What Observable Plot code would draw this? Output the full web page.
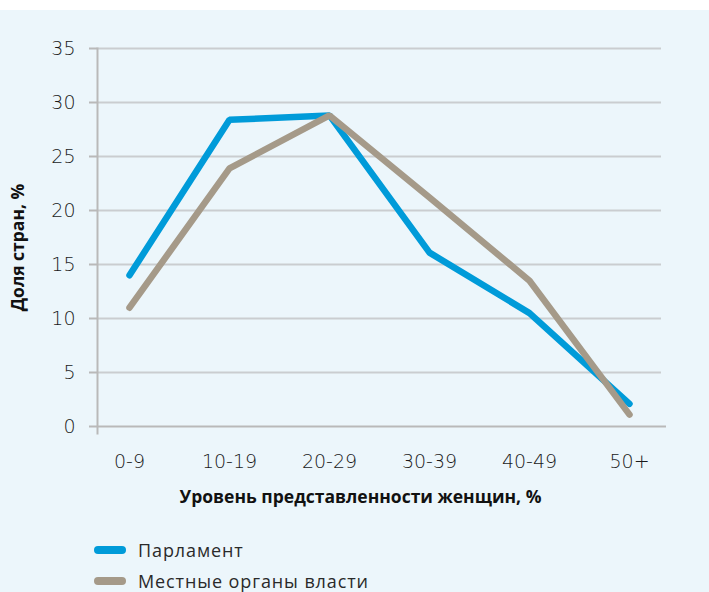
<!DOCTYPE html>
<html><head><meta charset="utf-8">
<script src="https://cdn.jsdelivr.net/npm/d3@7"></script>
<script src="https://cdn.jsdelivr.net/npm/@observablehq/plot@0.6"></script>
<style>
html,body{margin:0;padding:0;background:#fff;}
#wrap{position:absolute;top:10px;left:0;width:709px;height:582px;background:#ecf6fb;overflow:hidden;}
#chart{position:absolute;left:0;top:0;}
#legend{position:absolute;left:94px;top:524px;font-family:"Open Sans",sans-serif;font-size:18px;letter-spacing:0.9px;color:#2a2a2a;}
.item{display:flex;align-items:center;height:31px;}
.sw{display:inline-block;width:32px;height:8px;border-radius:4px;margin-right:12px;}
</style></head><body><div id="wrap"><div id="chart"></div><div id="legend"></div></div>
<script>
const categories = ["0-9","10-19","20-29","30-39","40-49","50+"];
const parliament = [14.0, 28.4, 28.8, 16.1, 10.5, 2.1];
const localGov = [11.0, 23.9, 28.8, 21.2, 13.5, 1.1];
const seriesNames = ["Парламент","Местные органы власти"];
const seriesColors = ["#009bd9","#a59a89"];
const yTicks = [0,5,10,15,20,25,30,35];
const xTitle = "Уровень представленности женщин, %";
const yTitle = "Доля стран, %";

const rows = [];
categories.forEach((c,i)=>rows.push({cat:c, v:parliament[i], s:seriesNames[0]}));
categories.forEach((c,i)=>rows.push({cat:c, v:localGov[i], s:seriesNames[1]}));

const plot = Plot.plot({
  width:709, height:520, marginTop:38, marginBottom:104, marginLeft:97, marginRight:48,
  style:{background:"transparent", fontFamily:"DejaVu Sans, sans-serif", fontSize:"19px", color:"#222", overflow:"visible"},
  x:{type:"point", domain:categories, padding:0.31, axis:null},
  y:{domain:[0,35], axis:null},
  color:{domain:seriesNames, range:seriesColors},
  marks:[
    Plot.ruleY(yTicks.filter(d=>d>0), {stroke:"#cacdd0", strokeWidth:2, strokeOpacity:1}),
    Plot.ruleY([0], {stroke:"#b9b9b9", strokeWidth:2, strokeOpacity:1, insetRight:-5}),
    Plot.frame({anchor:"left", stroke:"#b9b9b9", strokeWidth:2, strokeOpacity:1, insetBottom:-7}),
    Plot.axisY(yTicks, {tickSize:8, tickPadding:14, stroke:"#b9b9b9", strokeWidth:2, strokeOpacity:1, label:null, fontWeight:200, fill:"#1a1a1a"}),
    Plot.axisX(categories, {tickSize:0, tickPadding:28, label:null, fontWeight:200, fill:"#1a1a1a"}),
    Plot.text([yTitle], {frameAnchor:"left", textAnchor:"middle", lineAnchor:"middle", rotate:-90, dx:-79, dy:10, fontWeight:700, fontSize:17.5, fill:"#111", fontFamily:"Open Sans, sans-serif"}),
    Plot.text([xTitle], {frameAnchor:"bottom", textAnchor:"middle", lineAnchor:"middle", dx:-19, dy:71, fontWeight:700, fontSize:17.5, fill:"#111", fontFamily:"Open Sans, sans-serif"}),
    Plot.line(rows, {x:"cat", y:"v", stroke:"s", z:"s", strokeWidth:6.5, strokeLinecap:"round", strokeLinejoin:"miter"})
  ]
});
document.getElementById("chart").appendChild(plot);

const legend = document.getElementById("legend");
seriesNames.forEach((n,i)=>{
  const it = document.createElement("div"); it.className="item";
  const sw = document.createElement("span"); sw.className="sw"; sw.style.background=seriesColors[i];
  const t = document.createElement("span"); t.textContent=n;
  it.appendChild(sw); it.appendChild(t); legend.appendChild(it);
});
</script></body></html>
